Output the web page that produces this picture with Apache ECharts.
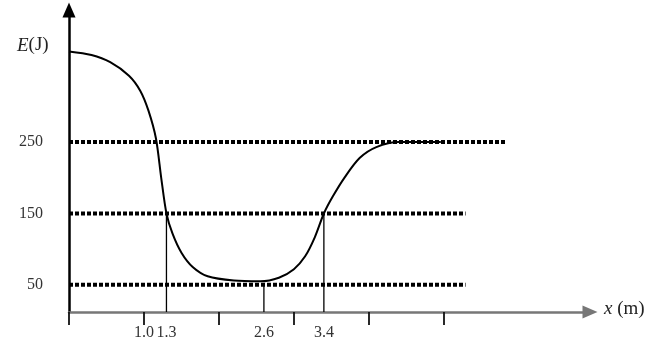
<!DOCTYPE html>
<html>
<head>
<meta charset="utf-8">
<script src="https://cdn.jsdelivr.net/npm/echarts@6/dist/echarts.min.js"></script>
<style>
html,body{margin:0;padding:0;background:#fff;}
#c{width:653px;height:346px;}
</style>
</head>
<body>
<div id="c"></div>
<script>
// Data
var xTickLabels = [1.0, 1.3, 2.6, 3.4];
var xTickMarks = [0, 1, 2, 3, 4, 5];
var yTickLabels = [50, 150, 250];
var curveX = [0, 0.3, 0.55, 0.8, 0.95, 1.06, 1.16, 1.23, 1.3, 1.38, 1.5, 1.65, 1.85, 2.2, 2.55, 2.8, 3.0, 3.15, 3.28, 3.4, 3.52, 3.68, 3.88, 4.1, 4.4, 4.96];
var curveE = [377, 372, 362, 343, 322, 294, 255, 200, 150, 122, 95, 75, 62, 56, 55, 60, 72, 90, 117, 150, 174, 201, 228, 243, 250, 250];
var levelE = [250, 150, 50];
var levelEnd = [5.84, 5.29, 5.29];
var dropX = [1.3, 2.6, 3.4];
var dropE = [150, 50, 150];
var xMin = 0, xMax = 6.95, yMin = 12, yMax = 435;

var font = 'Liberation Serif, Times New Roman, serif';
var series = [];
levelE.forEach(function (e, i) {
  series.push({
    type: 'line', symbol: 'none', silent: true, z: 2,
    data: [[xMin, e], [levelEnd[i], e]],
    lineStyle: { color: '#000', width: 4, type: [4, 2], cap: 'butt' }
  });
});
dropX.forEach(function (x, i) {
  series.push({
    type: 'line', symbol: 'none', silent: true, z: 3,
    data: [[x, dropE[i]], [x, yMin]],
    lineStyle: { color: '#000', width: 1.3 }
  });
});
series.push({
  type: 'line', symbol: 'none', silent: true, z: 4,
  smooth: 0.3,
  data: curveX.map(function (x, i) { return [x, curveE[i]]; }),
  lineStyle: { color: '#000', width: 2 }
});

var chart = echarts.init(document.getElementById('c'), null, { renderer: 'canvas' });
chart.setOption({
  animation: false,
  backgroundColor: '#fff',
  title: {
    text: '{i|E}(J)',
    left: 12, top: 31,
    textStyle: {
      fontFamily: font, fontSize: 19, fontWeight: 'normal', color: '#222',
      rich: { i: { fontFamily: font, fontSize: 19, fontStyle: 'italic', color: '#222' } }
    }
  },
  grid: { left: 69, right: 63, top: 10, bottom: 34, containLabel: false },
  xAxis: {
    type: 'value', min: xMin, max: xMax,
    name: '{i|x} (m)', nameLocation: 'end', nameGap: 14,
    nameTextStyle: {
      fontFamily: font, fontSize: 19, color: '#222', verticalAlign: 'middle', padding: [0, 0, 6, 0],
      rich: { i: { fontFamily: font, fontSize: 19, fontStyle: 'italic', color: '#222' } }
    },
    splitLine: { show: false },
    axisLine: { show: true, lineStyle: { color: '#777', width: 2.5 }, symbol: ['none', 'triangle'], symbolSize: [13, 15] },
    axisTick: { show: true, inside: false, length: 13, customValues: xTickMarks, lineStyle: { color: '#111', width: 1.8 } },
    axisLabel: {
      customValues: xTickLabels, margin: 13,
      fontFamily: font, fontSize: 16, color: '#333',
      formatter: function (v) { return v.toFixed(1); }
    }
  },
  yAxis: {
    type: 'value', min: yMin, max: yMax,
    splitLine: { show: false },
    axisLine: { show: true, onZero: false, lineStyle: { color: '#000', width: 2.5 }, symbol: ['none', 'triangle'], symbolSize: [13, 15] },
    axisTick: { show: false },
    axisLabel: {
      customValues: yTickLabels, margin: 26,
      fontFamily: font, fontSize: 16, color: '#333'
    }
  },
  series: series
});
</script>
</body>
</html>
